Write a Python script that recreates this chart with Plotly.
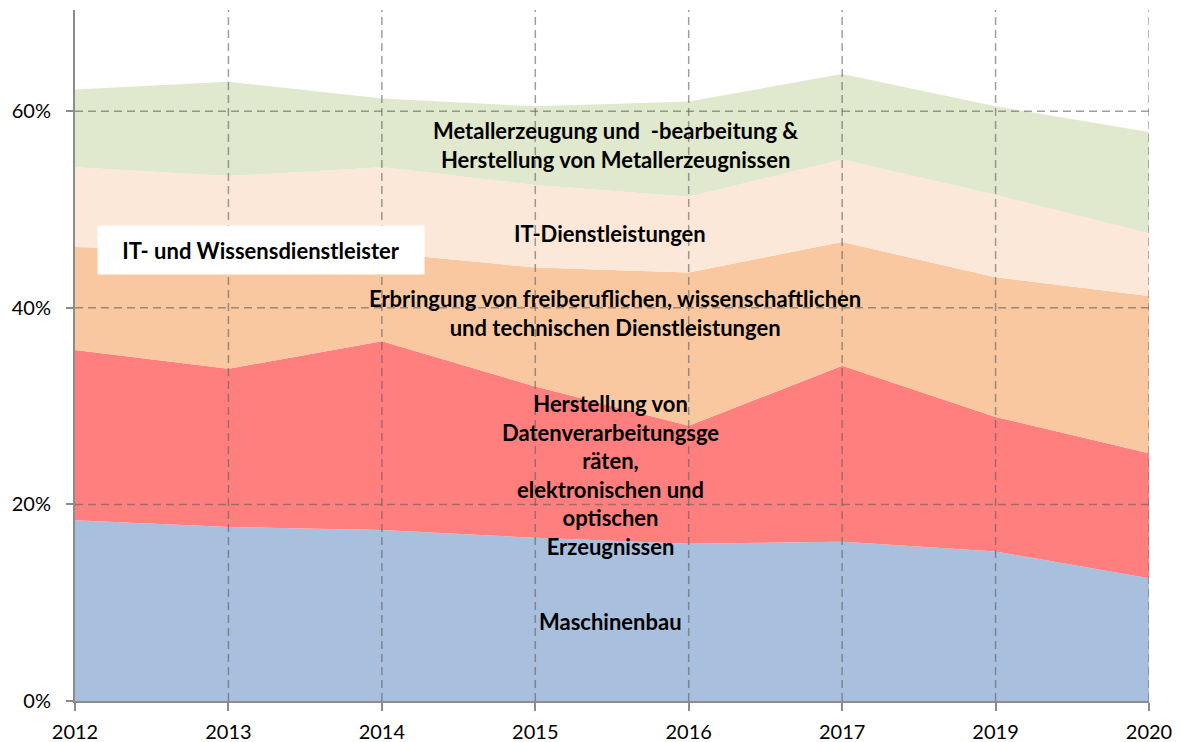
import plotly.graph_objects as go

years = ["2012", "2013", "2014", "2015", "2016", "2017", "2019", "2020"]

maschinenbau = [18.4, 17.7, 17.4, 16.6, 16.0, 16.2, 15.2, 12.5]
datenverarbeitung = [17.3, 16.1, 19.2, 15.4, 12.0, 17.9, 13.7, 12.7]
freiberuflich = [10.5, 12.0, 9.0, 12.1, 15.6, 12.6, 14.2, 16.0]
it_dienst = [8.1, 7.6, 8.7, 8.4, 7.7, 8.4, 8.4, 6.4]
metall = [7.9, 9.6, 7.0, 8.0, 9.7, 8.7, 9.0, 10.3]

series_names = [
    "Maschinenbau",
    "Herstellung von Datenverarbeitungsgeräten, elektronischen und optischen Erzeugnissen",
    "Erbringung von freiberuflichen, wissenschaftlichen und technischen Dienstleistungen",
    "IT-Dienstleistungen",
    "Metallerzeugung und -bearbeitung & Herstellung von Metallerzeugnissen",
]
series_values = [maschinenbau, datenverarbeitung, freiberuflich, it_dienst, metall]
series_colors = ["#A8BFDD", "#FF7F7F", "#F9C8A0", "#FCE8D9", "#E0E9CD"]

y_ticks = [0, 20, 40, 60]
y_tick_labels = ["0%", "20%", "40%", "60%"]

FONT = "Lato"
GRID = "rgba(95,95,95,0.6)"
AXIS = "#8C8C8C"

fig = go.Figure()
for name, vals, col in zip(series_names, series_values, series_colors):
    fig.add_trace(go.Scatter(
        x=years, y=vals, name=name, stackgroup="one", mode="lines",
        line=dict(width=0, color=col), fillcolor=col, hoverinfo="skip",
    ))

# dashed gridlines drawn above the areas
shapes = []
for i in range(1, len(years)):
    shapes.append(dict(type="line", xref="x", yref="paper", x0=i, x1=i, y0=0, y1=1,
                       line=dict(color=GRID, width=1.5, dash="8px,5px"), layer="above"))
for t in y_ticks[1:]:
    shapes.append(dict(type="line", xref="paper", yref="y", x0=0, x1=1, y0=t, y1=t,
                       line=dict(color=GRID, width=1.5, dash="8px,5px"), layer="above"))

lab_font = dict(family=FONT, size=22, color="black", weight="bold")
annotations = [
    dict(x=3.52, y=56.6, text="Metallerzeugung und  -bearbeitung &<br>Herstellung von Metallerzeugnissen"),
    dict(x=3.49, y=47.6, text="IT-Dienstleistungen"),
    dict(x=3.52, y=39.5, text="Erbringung von freiberuflichen, wissenschaftlichen<br>und technischen Dienstleistungen"),
    dict(x=3.49, y=23.0, text="Herstellung von<br>Datenverarbeitungsge<br>räten,<br>elektronischen und<br>optischen<br>Erzeugnissen"),
    dict(x=3.49, y=8.1, text="Maschinenbau"),
]
for a in annotations:
    a.update(xref="x", yref="y", showarrow=False, font=lab_font, align="center")
annotations.append(dict(
    x=1.213, y=45.9, xref="x", yref="y", showarrow=False,
    text="IT- und Wissensdienstleister", font=lab_font,
    bgcolor="white", width=318, height=40, borderpad=4, align="center",
))

fig.update_layout(
    width=1180, height=742,
    margin=dict(l=75, r=31, t=10, b=41),
    paper_bgcolor="white", plot_bgcolor="white",
    showlegend=False,
    shapes=shapes,
    annotations=annotations,
    xaxis=dict(
        type="category", range=[0, len(years) - 1],
        showgrid=False, zeroline=False, automargin=False,
        showline=True, linecolor=AXIS, linewidth=2,
        ticks="outside", ticklen=8, tickwidth=2, tickcolor=AXIS,
        tickfont=dict(family=FONT, size=20, color="black"),
        ticklabelstandoff=4,
    ),
    yaxis=dict(
        range=[0, 70.3], tickvals=y_ticks, ticktext=y_tick_labels,
        showgrid=False, zeroline=False, automargin=False,
        showline=True, linecolor=AXIS, linewidth=2,
        ticks="outside", ticklen=7, tickwidth=2, tickcolor=AXIS,
        tickfont=dict(family=FONT, size=20, color="black"),
        ticklabelstandoff=11,
    ),
)

fig.write_html("out.html", config={"displayModeBar": False},
               post_script="document.body.style.margin='0';")
